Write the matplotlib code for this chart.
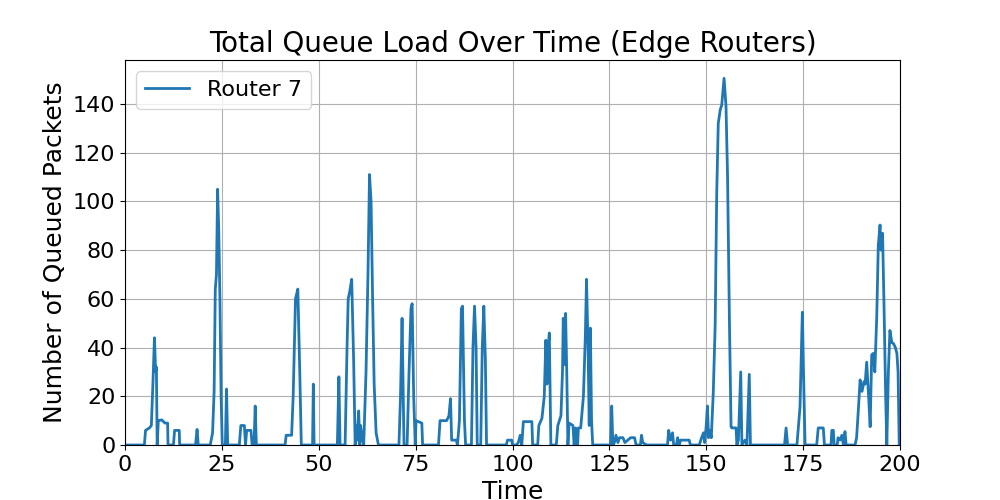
import matplotlib
matplotlib.use('Agg')
import matplotlib.pyplot as plt

# queue load for router 7 (time, packets)
time = [0, 5.0, 5.3, 6.3, 6.8, 7.2, 7.6, 7.9, 8.1, 8.3, 8.6, 9.5, 10.3, 11.0, 11.1,
        12.5, 12.8, 14.0, 14.1, 18.2, 18.6, 18.9,
        22.0, 22.6, 23.0, 23.3, 23.6, 23.9, 24.2, 24.5, 24.8, 25.1,
        25.9, 26.2, 26.5, 29.5, 29.9, 30.8, 31.1, 31.4, 32.5, 32.8, 33.3, 33.6, 33.9,
        41.3, 41.6, 43.0, 43.4, 44.0, 44.6, 45.1, 45.5, 48.4, 48.6, 48.8,
        54.8, 55.2, 55.5, 56.8, 57.3, 57.6, 58.0, 58.5, 59.0, 59.4, 59.6, 59.9,
        60.3, 60.6, 60.8, 61.2, 61.6, 62.2, 62.7, 63.1, 63.5, 63.9, 64.3, 64.8, 65.4,
        70.7, 71.1, 71.5, 71.8, 72.0, 72.8, 73.3, 73.8, 74.1, 74.5, 74.9, 75.1, 76.6, 76.8,
        80.9, 81.3, 83.0, 83.6, 84.0, 84.3, 85.5, 85.8, 86.3, 86.8, 87.1, 87.6, 87.9,
        89.4, 89.8, 90.2, 90.6, 90.9, 91.8, 92.2, 92.6, 93.0, 93.3,
        98.4, 98.7, 99.8, 100.0, 101.0, 101.5, 102.0, 102.4, 102.8, 105.0, 105.2,
        106.5, 106.8, 107.6, 108.2, 108.6, 108.9, 109.2, 109.5, 109.9,
        111.3, 111.7, 112.5, 112.9, 113.1, 113.4, 113.7, 114.0, 114.3, 114.6, 115.6, 115.9,
        116.3, 116.8, 117.0, 117.6, 118.3, 118.8, 119.1, 119.5, 119.8, 120.1, 120.4, 120.7,
        125.3, 125.6, 125.9, 126.3, 126.7, 127.2, 127.6, 128.5, 129.0, 130.5, 131.5, 131.9,
        133.0, 133.3, 133.6, 134.6, 140.0, 140.3, 140.8, 141.3, 141.6,
        142.3, 142.6, 143.0, 143.4, 145.6, 145.9,
        148.2, 148.8, 149.3, 149.6, 150.0, 150.3, 150.6, 150.9, 151.3, 151.8, 152.3, 152.7,
        153.1, 153.6, 154.0, 154.3, 154.6, 155.1, 155.5, 156.0, 156.4, 156.6, 157.7, 157.9,
        158.3, 158.9, 159.2, 160.0, 160.5, 161.1, 161.4,
        170.2, 170.6, 171.0, 173.4, 173.8, 174.2, 174.8, 175.1, 175.5,
        178.5, 178.9, 180.2, 180.5, 182.2, 182.4, 182.8, 183.0, 183.8, 184.0, 184.5,
        185.0, 185.4, 185.8, 186.1,
        188.4, 188.8, 189.3, 189.7, 190.2, 190.7, 191.0, 191.4, 191.9, 192.3, 192.7, 193.1,
        193.5, 194.0, 194.4, 194.85, 195.1, 195.5, 195.9, 196.3, 196.6, 197.0, 197.4,
        197.9, 198.3, 198.8, 199.2, 199.5, 199.8, 200.0]
queued = [0, 0, 6, 7, 8, 25, 44, 30, 32, 0, 10, 10.3, 9, 9, 0,
          0, 6, 6, 0, 0, 6.4, 0,
          0, 5, 22, 64, 70, 105, 88, 60, 20, 0,
          0, 23, 0, 0, 8, 8, 0, 6, 6, 0, 0, 16, 0,
          0, 4, 4, 20, 60, 64, 30, 0, 0, 25, 0,
          0, 28, 0, 0, 40, 60, 63, 68, 35, 0, 8, 2,
          14, 0, 8, 3, 0, 30, 70, 111, 100, 60, 25, 5, 0,
          0, 20, 52, 20, 0, 0, 30, 56, 58, 20, 0, 10, 9, 0,
          0, 10, 10, 12, 19, 2, 2, 0, 10, 56, 57, 10, 0,
          0, 40, 57, 40, 0, 0, 40, 57, 35, 0,
          0, 2, 2, 0, 0, 1, 4, 0, 9.6, 9.6, 0,
          0, 8, 11, 20, 43, 25, 40, 46, 0,
          0, 8, 12, 30, 52, 33, 54, 30, 0, 9, 8, 0,
          7, 0, 7, 7, 20, 45, 68, 40, 8, 48, 10, 0,
          0, 16, 0, 1, 4, 1, 3, 3, 1, 3, 3, 0,
          0, 4, 1, 0, 0, 6, 2, 5, 0,
          0, 3, 0, 2, 2, 0,
          0, 3, 5, 1, 8, 16, 3, 6, 3, 21, 49, 103,
          132, 137.5, 139.6, 145, 150.5, 139, 110, 48.6, 7.5, 7, 7, 0,
          2, 30, 0, 2, 0, 29, 0,
          0, 7, 0, 0, 8, 15.7, 54.5, 30, 0,
          0, 7, 7, 0, 0, 6, 6, 0, 0, 3, 2,
          4, 0, 5.5, 0,
          0, 3, 15.7, 26.7, 22, 26, 25, 34, 20, 7.5, 37, 37.6,
          30, 52.7, 82, 90.3, 80, 86.9, 55, 20, 0, 30, 47,
          42, 41.7, 40, 37.6, 30, 0, 0]

plt.figure(figsize=(10, 5))
plt.plot(time, queued, color='#1f77b4', linewidth=2, label='Router 7')
plt.title('Total Queue Load Over Time (Edge Routers)', fontsize=20)
plt.xlabel('Time', fontsize=18)
plt.ylabel('Number of Queued Packets', fontsize=18)
plt.xticks(fontsize=16), plt.yticks(fontsize=16)
plt.xlim(0, 200)
plt.ylim(bottom=0)
plt.grid(True)
plt.legend(loc='upper left', fontsize=16)
plt.savefig('out.png', dpi=100)
